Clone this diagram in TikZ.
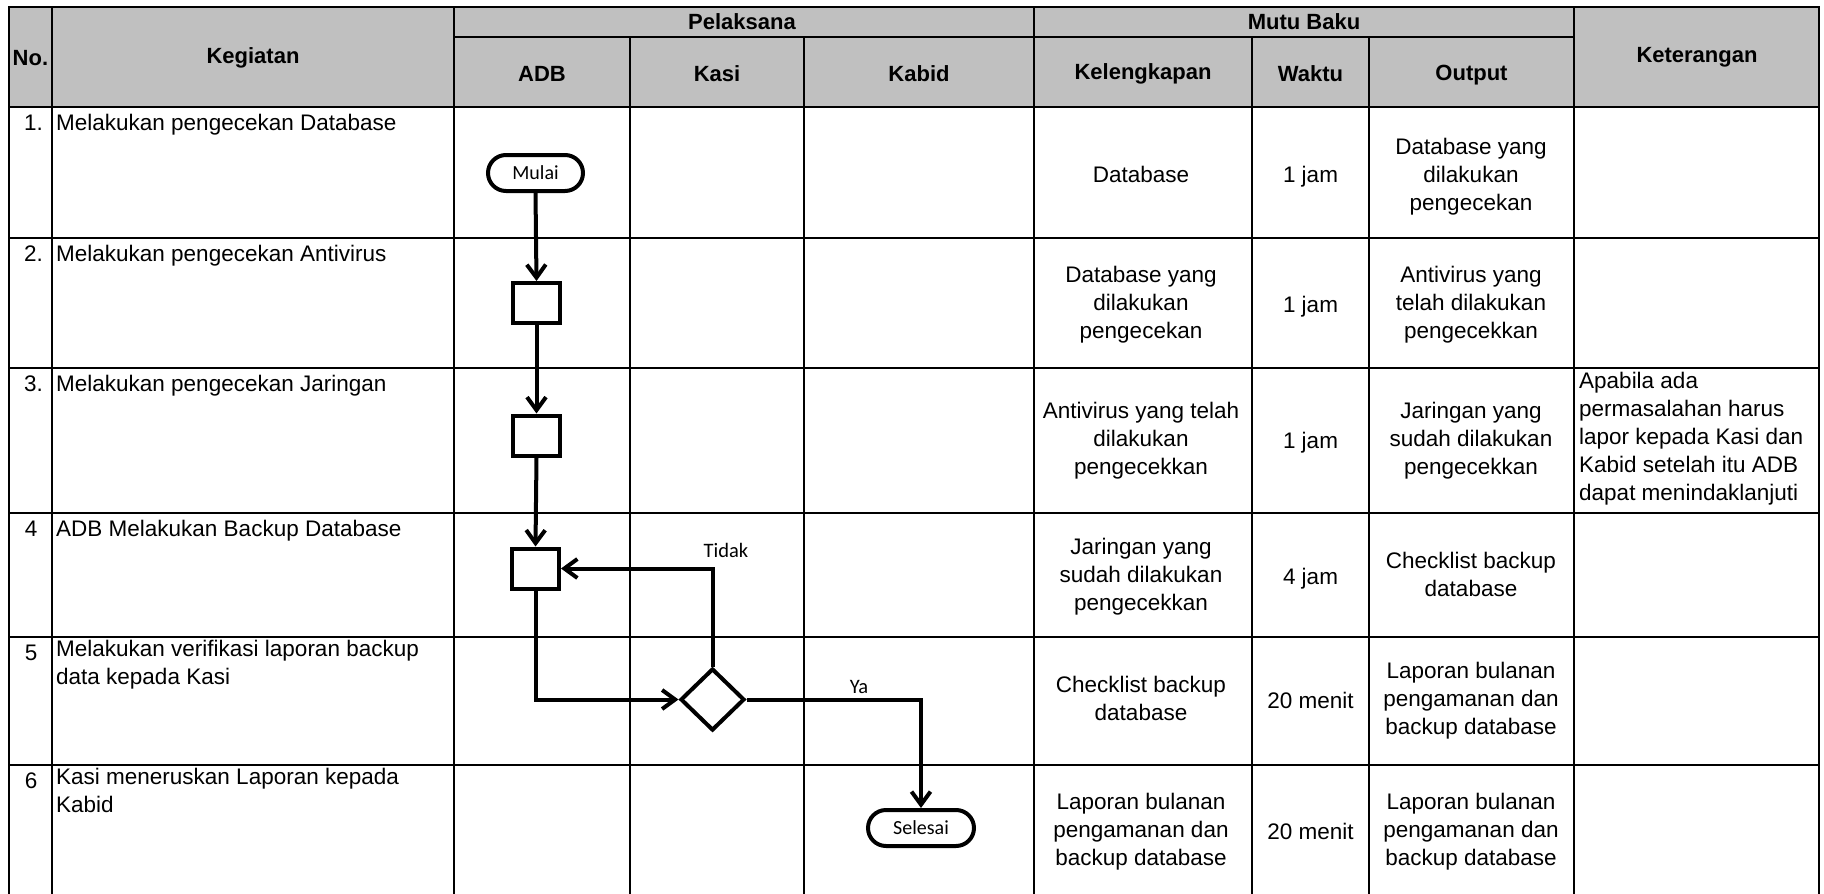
\documentclass[tikz,border=0pt]{standalone}
\usepackage{fontspec}
\setmainfont{Liberation Sans}
\newfontfamily\calibrifont{Carlito}
\usetikzlibrary{arrows.meta,shapes.geometric}
\definecolor{hdrgray}{HTML}{C0C0C0}
\tikzset{
  gridline/.style={line width=2.2pt, line cap=rect},
  txt/.style={font=\fontsize{22.5}{28}\selectfont, inner sep=0pt,
    execute at begin node=\strut, execute at end node=\strut},
  cell/.style={txt, align=center},
  lcell/.style={txt, align=left, anchor=north west},
  ncell/.style={txt, anchor=north east},
  hd/.style={font=\fontsize{22}{26}\selectfont\bfseries, inner sep=0pt},
  flow/.style={line width=4pt},
  fbox/.style={draw, line width=4pt, minimum width=47pt, minimum height=40pt, inner sep=0pt},
  term/.style={draw, line width=4pt, rounded corners=18pt, minimum height=36pt,
    inner sep=0pt, font=\calibrifont\fontsize{20}{24}\selectfont},
  dec/.style={draw, diamond, line width=4pt, minimum width=64pt, minimum height=62pt,
    inner sep=0pt, aspect=1},
  arr/.style={flow, -{Straight Barb[length=13pt,width=19pt]}},
  flab/.style={inner sep=0pt, font=\calibrifont\fontsize{20.5}{24}\selectfont}
}
\begin{document}
\begin{tikzpicture}[x=1pt,y=-1pt]
\useasboundingbox (0,0) rectangle (1824,894);
\fill[white] (0,0) rectangle (1824,894);
\fill[hdrgray] (8.7,7) rectangle (1819,107);
% grid
\draw[gridline] (8.7,7) -- (1819,7);
\draw[gridline] (454,37) -- (1574,37);
\foreach \y in {107,238,368,513,637,765} \draw[gridline] (8.7,\y) -- (1819,\y);
\foreach \x in {8.7,52,454,1034,1574,1819} \draw[gridline] (\x,7) -- (\x,894);
\foreach \x in {630,804,1252,1369} \draw[gridline] (\x,37) -- (\x,894);

% header texts
\node[hd, anchor=west] (hno) at (12.5,58) {No.};
\node[hd] (hkeg) at (253,58) {Kegiatan};
\node[hd] (hpel) at (742,22) {Pelaksana};
\node[hd] (hmutu) at (1304,22) {Mutu Baku};
\node[hd] (hadb) at (542,74) {ADB};
\node[hd] (hkasi) at (717,74) {Kasi};
\node[hd] (hkabid) at (919,74) {Kabid};
\node[hd] (hkel) at (1143,74) {Kelengkapan};
\node[hd] (hwak) at (1310.5,74) {Waktu};
\node[hd] (hout) at (1471.5,75) {Output};
\node[hd] (hket) at (1697,57) {Keterangan};

% numbers
\node[ncell] (n1) at (43,110.4) {1.};
\node[ncell] (n2) at (43,241.4) {2.};
\node[ncell] (n3) at (43,371.4) {3.};
\node[ncell] (n4) at (37.5,516.4) {4};
\node[ncell] (n5) at (37.5,640.4) {5};
\node[ncell] (n6) at (37.5,768.4) {6};

% kegiatan
\node[lcell] (k1) at (56,110.4) {Melakukan pengecekan Database};
\node[lcell] (k2) at (56,241.4) {Melakukan pengecekan Antivirus};
\node[lcell] (k3) at (56,371.4) {Melakukan pengecekan Jaringan};
\node[lcell] (k4) at (56,516.4) {ADB Melakukan Backup Database};
\node[lcell] (k5) at (56,640.4) {Melakukan verifikasi laporan backup\\data kepada Kasi};
\node[lcell] (k6) at (56,768.4) {Kasi meneruskan Laporan kepada\\Kabid};

% kelengkapan
\node[cell] (kl1) at (1141,176.4) {Database};
\node[cell] (kl2) at (1141,306.4) {Database yang\\dilakukan\\pengecekan};
\node[cell] (kl3) at (1141,442.4) {Antivirus yang telah\\dilakukan\\pengecekkan};
\node[cell] (kl4) at (1141,578.4) {Jaringan yang\\sudah dilakukan\\pengecekkan};
\node[cell] (kl5) at (1141,702.4) {Checklist backup\\database};
\node[cell] (kl6) at (1141,833.4) {Laporan bulanan\\pengamanan dan\\backup database};

% waktu
\node[cell] (w1) at (1310.5,176.4) {1 jam};
\node[cell] (w2) at (1310.5,306.4) {1 jam};
\node[cell] (w3) at (1310.5,442.4) {1 jam};
\node[cell] (w4) at (1310.5,578.4) {4 jam};
\node[cell] (w5) at (1310.5,702.4) {20 menit};
\node[cell] (w6) at (1310.5,833.4) {20 menit};

% output
\node[cell] (o1) at (1471,178.4) {Database yang\\dilakukan\\pengecekan};
\node[cell] (o2) at (1471,306.4) {Antivirus yang\\telah dilakukan\\pengecekkan};
\node[cell] (o3) at (1471,442.4) {Jaringan yang\\sudah dilakukan\\pengecekkan};
\node[cell] (o4) at (1471,578.4) {Checklist backup\\database};
\node[cell] (o5) at (1471,702.4) {Laporan bulanan\\pengamanan dan\\backup database};
\node[cell] (o6) at (1471,833.4) {Laporan bulanan\\pengamanan dan\\backup database};

% keterangan
\node[txt, align=left, anchor=west] (ket3) at (1579,440.5) {Apabila ada\\permasalahan harus\\lapor kepada Kasi dan\\Kabid setelah itu ADB\\dapat menindaklanjuti};

% flowchart
\node[term, minimum width=95pt] (mulai) at (535.5,173) {Mulai};
\node[fbox] (b1) at (536.5,303) {};
\node[fbox] (b2) at (536.5,435.5) {};
\node[fbox] (b3) at (535.5,568.5) {};
\node[dec] (dia) at (712.5,699.5) {};
\node[term, minimum width=106pt] (sel) at (921,828) {Selesai};

\draw[arr] (mulai.south) -- (b1.north);
\draw[arr] (b1.south) -- (b2.north);
\draw[arr] (b2.south) -- (b3.north);
\draw[arr] (b3.south) |- (dia.west);
\draw[arr] (dia.north) |- (b3.east);
\draw[arr] (dia.east) -| (sel.north);
\node[flab] (ltidak) at (726,550) {Tidak};
\node[flab] (lya) at (859,687) {Ya};
\end{tikzpicture}
\end{document}
